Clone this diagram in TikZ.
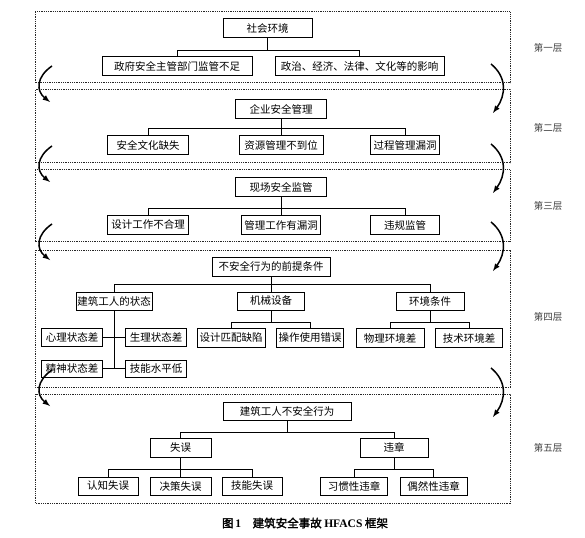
\documentclass[tikz,border=0pt]{standalone}
\usepackage{fontspec}
\setmainfont{Noto Sans CJK SC}[AutoFakeBold=2]
\newfontfamily\lat{Liberation Serif}
\usetikzlibrary{arrows}

\begin{document}
\begin{tikzpicture}[x=1pt,y=-1pt,>=latex,
    box/.style={draw,line width=1pt,inner sep=0pt,minimum height=19,font=\fontsize{10.5}{12}\selectfont},
    link/.style={line width=0.9pt},
    layer/.style={line width=1pt,black!85,dash pattern=on 1pt off 0.8pt},
    flow/.style={->,line width=1.5pt},
    lvl/.style={black!75,font=\fontsize{9.5}{11}\selectfont}]
  \useasboundingbox (0,0) rectangle (585,537);

  \foreach \t/\b in {12/83,90/163,170/241,250/387,394/503}
    \draw[layer] (35,\t) rectangle (510,\b);

  \node[lvl] (l1) at (548,48) {第一层};
  \node[lvl] (l2) at (548,128) {第二层};
  \node[lvl] (l3) at (548,206) {第三层};
  \node[lvl] (l4) at (548,317) {第四层};
  \node[lvl] (l5) at (548,448) {第五层};

  % layer 1
  \node[box,minimum width=89] (soc) at (267.5,28) {社会环境};
  \node[box,minimum width=150] (gov) at (177,66.5) {政府安全主管部门监管不足};
  \node[box,minimum width=169] (pol) at (359.5,66.5) {政治、经济、法律、文化等的影响};
  \draw[link] (soc.south) -- ++(0,12) -| (gov.north);
  \draw[link] (soc.south) -- ++(0,12) -| (pol.north);

  % layer 2
  \node[box,minimum width=91] (ent) at (281,109) {企业安全管理};
  \node[box,minimum width=80.5] (cul) at (148,145.5) {安全文化缺失};
  \node[box,minimum width=84] (res) at (281,145.5) {资源管理不到位};
  \node[box,minimum width=68.5] (pro) at (405,145.5) {过程管理漏洞};
  \draw[link] (ent.south) -- ++(0,9.5) -| (cul.north);
  \draw[link] (ent.south) -- ++(0,9.5) -| (pro.north);
  \draw[link] (ent.south) -- (res.north);

  % layer 3
  \node[box,minimum width=91] (site) at (281,187) {现场安全监管};
  \node[box,minimum width=80.5] (des) at (148,225) {设计工作不合理};
  \node[box,minimum width=78.5] (mgt) at (281,225) {管理工作有漏洞};
  \node[box,minimum width=68.5] (vio) at (405,225) {违规监管};
  \draw[link] (site.south) -- ++(0,11.5) -| (des.north);
  \draw[link] (site.south) -- ++(0,11.5) -| (vio.north);
  \draw[link] (site.south) -- (mgt.north);

  % layer 4
  \node[box,minimum width=118] (pre) at (271,266.5) {不安全行为的前提条件};
  \node[box,minimum width=76,minimum height=18] (ws) at (114,301) {建筑工人的状态};
  \node[box,minimum width=67.5,minimum height=18] (mach) at (271,301) {机械设备};
  \node[box,minimum width=68,minimum height=18] (env) at (430,301) {环境条件};
  \draw[link] (pre.south) -- ++(0,8) -| (ws.north);
  \draw[link] (pre.south) -- ++(0,8) -| (env.north);
  \draw[link] (pre.south) -- (mach.north);

  \node[box,minimum width=60.5,minimum height=18] (psy) at (72,337.5) {心理状态差};
  \node[box,minimum width=60.5,minimum height=18] (phy) at (156,337.5) {生理状态差};
  \node[box,minimum width=60.5,minimum height=17] (men) at (72,368.5) {精神状态差};
  \node[box,minimum width=60.5,minimum height=17] (ski) at (156,368.5) {技能水平低};
  \draw[link] (ws.south) -- (ws.south |- men.east);
  \draw[link] (psy.east) -- (phy.west);
  \draw[link] (men.east) -- (ski.west);

  \node[box,minimum width=68] (dm) at (231,338) {设计匹配缺陷};
  \node[box,minimum width=67.5] (op) at (310,338) {操作使用错误};
  \draw[link] (mach.south) -- ++(0,12) -| (dm.north);
  \draw[link] (mach.south) -- ++(0,12) -| (op.north);

  \node[box,minimum width=68] (ph) at (390,338) {物理环境差};
  \node[box,minimum width=67.5] (te) at (469,338) {技术环境差};
  \draw[link] (env.south) -- ++(0,12) -| (ph.north);
  \draw[link] (env.south) -- ++(0,12) -| (te.north);

  % layer 5
  \node[box,minimum width=128,minimum height=18] (act) at (287,411) {建筑工人不安全行为};
  \node[box,minimum width=61] (err) at (180.5,447.5) {失误};
  \node[box,minimum width=68] (vl) at (394,447.5) {违章};
  \draw[link] (act.south) -- ++(0,12) -| (err.north);
  \draw[link] (act.south) -- ++(0,12) -| (vl.north);

  \node[box,minimum width=60,minimum height=18] (cog) at (108,486) {认知失误};
  \node[box,minimum width=61,minimum height=18] (dec) at (180.5,486) {决策失误};
  \node[box,minimum width=60,minimum height=18] (sk) at (252,486) {技能失误};
  \draw[link] (err.south) -- ++(0,12) -| (cog.north);
  \draw[link] (err.south) -- ++(0,12) -| (sk.north);
  \draw[link] (err.south) -- (dec.north);

  \node[box,minimum width=67.5,minimum height=18] (hab) at (354,486) {习惯性违章};
  \node[box,minimum width=67,minimum height=18] (acc) at (433.5,486) {偶然性违章};
  \draw[link] (vl.south) -- ++(0,12) -| (hab.north);
  \draw[link] (vl.south) -- ++(0,12) -| (acc.north);

  % arrows between layers
  \foreach \b [count=\i] in {83,163,241,387} {
    \coordinate (ls\i) at (52,\b-17);
    \coordinate (le\i) at (50,\b+19);
    \coordinate (rs\i) at (491,\b-19);
    \coordinate (re\i) at (493,\b+30);
    \draw[flow] (ls\i) .. controls (36,\b-6) and (36,\b+8) .. (le\i);
    \draw[flow] (rs\i) .. controls (507,\b-6) and (506,\b+12) .. (re\i);
  }

  \node[font=\fontsize{11.5}{13}\selectfont\bfseries] (cap) at (305,523)
    {图\,{\lat\bfseries 1}\quad 建筑安全事故~{\lat\bfseries HFACS}~框架};
\end{tikzpicture}
\end{document}
